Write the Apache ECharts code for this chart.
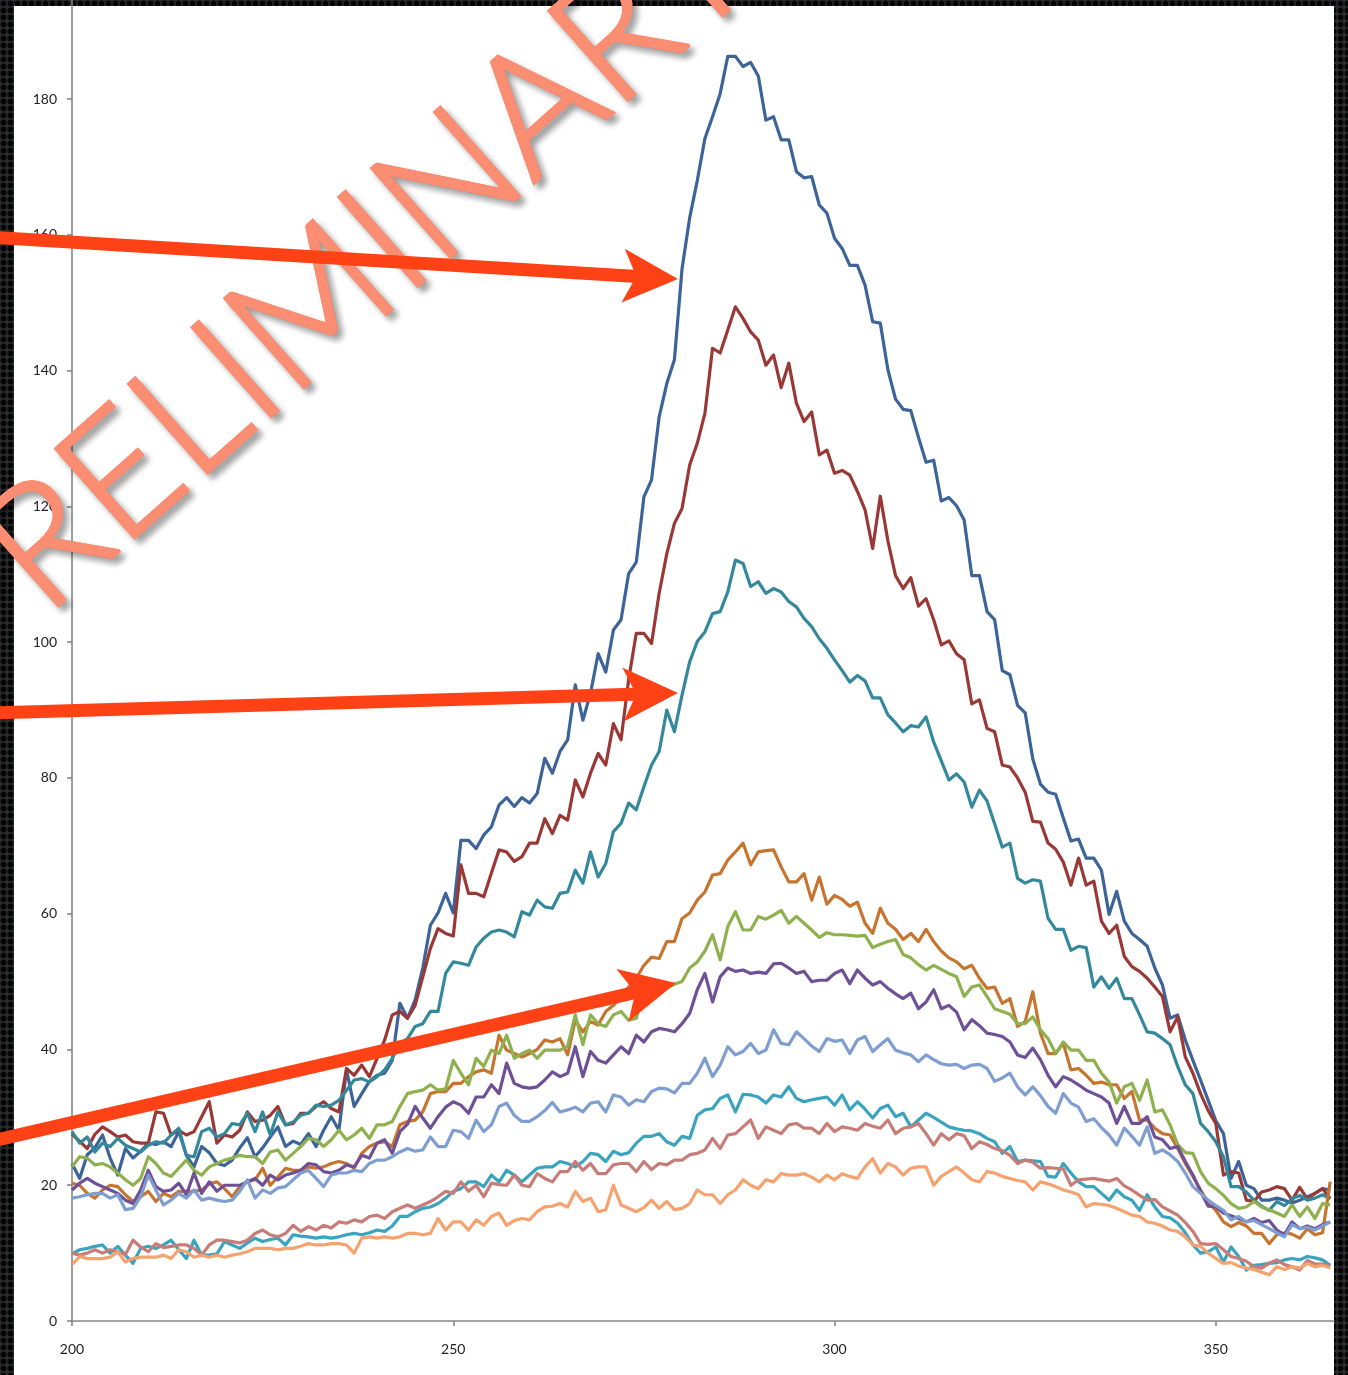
<!DOCTYPE html>
<html>
<head>
<meta charset="utf-8">
<script src="https://cdn.jsdelivr.net/npm/echarts@6/dist/echarts.min.js"></script>
<style>
  html, body { margin: 0; padding: 0; width: 1348px; height: 1375px; overflow: hidden; }
  body {
    background-color: #2a2b2d;
    background-image: radial-gradient(circle, #050505 0 2.6px, transparent 3.3px);
    background-size: 7px 7px;
  }
  #paper { position: absolute; left: 14px; top: 6px; width: 1320px; height: 1369px; background: #ffffff; }
  #chart { position: absolute; left: 0; top: 0; width: 1348px; height: 1375px; }
</style>
</head>
<body>
<div id="paper"></div>
<div id="chart"></div>
<script>
// Emission spectra, one sample per nm from 200 to 365 nm
const startNm = 200;

const xTicks = [200, 250, 300, 350];
const yTicks = [0, 20, 40, 60, 80, 100, 120, 140, 160, 180];

const series1 = [
  23.2, 21.0, 24.5, 25.5, 27.4, 24.0, 21.5, 25.4, 24.0, 25.0,
  26.2, 26.0, 26.4, 25.7, 27.9, 24.4, 22.7, 25.7, 24.8, 23.2,
  22.9, 23.7, 25.5, 27.0, 24.2, 25.5, 27.1, 28.6, 25.7, 26.5,
  26.0, 27.6, 25.7, 28.1, 30.1, 28.1, 37.0, 31.6, 33.5, 35.3,
  36.2, 36.5, 38.4, 46.8, 44.6, 47.3, 52.0, 58.3, 60.1, 63.0,
  60.1, 70.8, 70.8, 69.6, 71.6, 72.8, 76.0, 77.1, 75.8, 77.1,
  76.3, 77.7, 82.9, 80.7, 83.9, 85.6, 93.7, 88.5, 92.5, 98.3,
  95.6, 101.8, 103.3, 110.1, 111.8, 121.4, 123.9, 133.2, 138.1, 141.6,
  155.0, 162.5, 168.0, 174.2, 177.4, 180.8, 186.3, 186.3, 184.8, 185.4,
  183.4, 176.9, 177.4, 174.0, 174.0, 169.3, 168.4, 168.6, 164.4, 163.2,
  159.5, 158.0, 155.5, 155.5, 152.6, 147.2, 147.0, 140.1, 135.8, 134.3,
  134.1, 130.2, 126.5, 126.8, 120.8, 121.3, 120.1, 118.0, 109.8, 109.8,
  104.5, 103.3, 95.8, 95.2, 90.7, 89.6, 82.8, 79.1, 77.9, 77.6,
  74.1, 70.7, 71.0, 68.2, 68.2, 66.4, 59.9, 63.3, 58.9, 57.1,
  56.2, 55.2, 52.0, 49.5, 44.6, 45.1, 41.4, 38.4, 35.5, 32.5,
  29.5, 27.6, 21.0, 23.5, 20.0, 19.5, 17.8, 17.8, 18.1, 17.8,
  17.4, 17.8, 18.3, 18.8, 19.5, 19.3
];

const series2 = [
  27.5, 26.5, 25.4, 27.5, 28.6, 27.9, 27.1, 27.4, 26.4, 26.2,
  26.2, 30.8, 30.6, 27.4, 28.1, 27.4, 27.9, 30.1, 32.3, 26.2,
  27.4, 27.1, 28.1, 30.8, 29.4, 29.6, 30.3, 31.6, 28.9, 29.1,
  30.6, 30.6, 31.6, 32.3, 31.3, 30.8, 37.2, 36.2, 37.7, 36.0,
  38.7, 41.4, 45.1, 45.6, 44.6, 46.5, 50.7, 54.9, 57.8, 57.1,
  56.7, 67.2, 63.0, 63.0, 62.5, 66.0, 69.4, 69.1, 67.7, 68.4,
  70.4, 70.4, 74.0, 71.8, 74.5, 73.8, 79.7, 77.2, 80.7, 83.6,
  81.9, 88.0, 85.6, 94.5, 101.3, 101.3, 99.8, 107.2, 113.0, 117.5,
  119.7, 126.1, 129.3, 133.7, 143.3, 142.6, 146.0, 149.4, 147.7, 145.7,
  144.5, 140.8, 142.3, 137.5, 141.1, 135.2, 132.5, 133.9, 127.6, 128.3,
  124.9, 125.3, 124.6, 122.2, 119.5, 113.8, 121.5, 114.9, 109.8, 107.9,
  109.5, 105.3, 106.4, 103.3, 99.6, 100.2, 98.3, 97.4, 90.9, 91.5,
  87.3, 86.8, 81.9, 81.6, 80.0, 77.9, 73.6, 73.5, 70.4, 69.5,
  67.6, 64.2, 68.2, 64.2, 64.8, 58.9, 57.1, 58.3, 53.7, 52.2,
  51.5, 50.5, 49.2, 47.8, 42.6, 44.8, 38.9, 36.5, 33.5, 31.0,
  29.1, 21.5, 22.0, 21.8, 17.8, 17.6, 19.0, 19.3, 19.8, 19.5,
  17.8, 19.7, 18.0, 18.8, 19.5, 18.0
];

const series3 = [
  27.9, 26.2, 27.1, 24.9, 26.2, 25.7, 26.9, 25.9, 25.4, 24.9,
  25.9, 26.4, 26.2, 27.4, 28.4, 24.4, 24.2, 27.9, 28.4, 27.1,
  27.6, 29.1, 28.9, 30.6, 27.9, 30.8, 27.4, 30.8, 28.9, 29.3,
  30.3, 30.6, 31.8, 31.6, 31.8, 32.5, 34.0, 35.5, 35.7, 35.2,
  36.0, 37.0, 38.7, 40.9, 41.6, 43.4, 43.8, 45.6, 45.6, 51.2,
  52.9, 52.7, 52.4, 55.1, 56.4, 57.3, 57.6, 57.3, 56.6, 60.3,
  59.8, 62.0, 61.0, 60.8, 63.0, 63.2, 66.4, 64.5, 69.1, 65.4,
  67.4, 72.1, 73.3, 76.3, 75.3, 78.7, 81.9, 83.9, 90.0, 86.8,
  92.2, 97.1, 100.1, 101.5, 104.2, 104.5, 107.4, 112.1, 111.6, 108.2,
  108.9, 107.2, 107.9, 107.4, 106.0, 105.2, 103.5, 102.3, 100.5, 99.1,
  97.4, 95.8, 94.1, 95.1, 94.3, 91.8, 91.8, 89.3, 88.1, 86.8,
  87.7, 87.5, 89.0, 85.3, 82.5, 79.7, 80.6, 79.4, 75.7, 78.2,
  76.6, 73.2, 69.8, 70.4, 65.2, 64.5, 65.0, 64.8, 59.3, 57.7,
  57.7, 54.6, 55.2, 55.0, 49.2, 50.7, 49.0, 50.5, 47.5, 47.5,
  45.1, 42.6, 42.4, 41.6, 40.7, 37.5, 34.8, 33.5, 29.1, 27.9,
  26.4, 24.2, 19.8, 19.8, 19.0, 17.8, 16.9, 16.3, 17.6, 17.0,
  18.0, 18.5, 17.8, 18.1, 18.6, 18.0
];

const series4 = [
  20.3, 20.0, 18.8, 18.1, 19.3, 20.0, 19.8, 18.6, 17.6, 18.3,
  19.1, 17.6, 18.8, 18.3, 19.1, 19.1, 19.1, 19.3, 20.2, 20.5,
  19.5, 18.3, 19.8, 20.5, 20.8, 22.5, 20.0, 21.2, 22.5, 22.2,
  22.2, 22.7, 22.5, 22.7, 23.2, 23.5, 23.2, 22.5, 24.7, 25.7,
  26.2, 26.4, 25.7, 28.9, 29.4, 29.6, 30.8, 33.5, 33.8, 33.8,
  35.0, 35.0, 36.0, 36.7, 37.0, 36.5, 42.1, 39.9, 39.4, 38.9,
  39.4, 40.0, 41.4, 41.1, 41.6, 39.2, 44.3, 42.6, 44.1, 43.6,
  45.6, 46.5, 47.8, 49.2, 50.5, 52.4, 53.6, 53.4, 55.9, 55.9,
  59.3, 60.1, 62.0, 63.2, 65.7, 65.9, 67.9, 69.1, 70.4, 67.2,
  69.1, 69.3, 69.4, 66.9, 64.7, 64.7, 65.9, 62.0, 65.4, 61.4,
  62.7, 62.1, 61.1, 61.7, 58.6, 57.1, 60.8, 58.6, 57.7, 56.2,
  57.1, 55.9, 57.7, 55.9, 54.5, 53.5, 52.9, 51.9, 52.4, 50.5,
  49.0, 49.2, 46.8, 47.5, 43.4, 44.1, 48.5, 42.4, 39.4, 39.4,
  40.9, 37.0, 37.2, 36.2, 35.0, 35.2, 34.8, 34.8, 32.8, 33.8,
  29.6, 29.6, 28.4, 27.6, 27.4, 25.4, 23.2, 21.3, 19.3, 17.5,
  16.3, 14.6, 13.9, 14.5, 14.0, 12.9, 12.9, 11.4, 12.7, 13.0,
  12.8, 12.2, 13.6, 12.7, 13.0, 20.5
];

const series5 = [
  22.7, 24.2, 24.0, 23.0, 23.2, 22.7, 21.8, 20.8, 20.0, 21.0,
  24.2, 23.2, 21.8, 21.3, 22.5, 23.7, 22.2, 21.5, 22.7, 23.2,
  23.7, 24.0, 24.4, 24.2, 24.2, 23.2, 24.9, 25.2, 23.7, 24.7,
  25.7, 26.9, 26.7, 25.7, 26.7, 28.1, 26.7, 27.4, 28.4, 26.9,
  28.9, 28.9, 29.4, 31.6, 33.5, 33.8, 34.0, 34.8, 34.0, 34.2,
  38.4, 36.5, 34.8, 38.7, 37.5, 39.9, 39.4, 42.1, 38.7, 39.4,
  39.9, 38.7, 39.9, 39.9, 39.9, 40.5, 45.1, 40.7, 45.1, 43.8,
  43.4, 45.1, 45.6, 44.3, 44.6, 48.8, 49.2, 49.3, 49.0, 49.6,
  50.0, 52.0, 52.9, 54.5, 56.9, 53.2, 58.1, 60.3, 57.6, 57.6,
  59.6, 59.2, 59.8, 60.5, 58.6, 59.6, 58.6, 57.6, 56.5, 57.2,
  56.9, 56.9, 56.8, 56.7, 56.8, 55.0, 55.5, 55.9, 56.2, 54.0,
  53.5, 52.5, 51.7, 52.4, 51.8, 51.2, 50.7, 47.8, 49.2, 49.5,
  47.8, 46.0, 45.6, 45.2, 43.8, 43.8, 44.8, 42.9, 41.6, 39.4,
  41.1, 39.9, 39.9, 38.4, 38.4, 36.5, 35.2, 32.1, 34.5, 35.0,
  32.5, 35.5, 30.8, 31.1, 28.9, 26.0, 24.8, 24.7, 22.0, 20.3,
  19.5, 18.5, 17.3, 16.6, 16.8, 17.6, 16.8, 16.4, 15.9, 15.4,
  17.1, 15.4, 16.8, 15.1, 17.3, 17.1
];

const series6 = [
  19.3, 20.3, 21.0, 20.3, 19.8, 19.3, 18.8, 17.8, 17.3, 19.3,
  22.2, 19.8, 19.1, 19.3, 20.3, 18.6, 21.8, 18.8, 20.5, 19.1,
  20.0, 20.0, 20.0, 20.5, 21.0, 20.0, 21.5, 20.8, 21.5, 21.8,
  22.2, 23.2, 23.0, 22.0, 21.8, 22.2, 23.0, 22.7, 24.4, 24.0,
  26.2, 26.7, 24.7, 27.9, 29.0, 31.6, 29.9, 28.4, 30.1, 31.5,
  32.3, 31.8, 30.6, 33.0, 33.0, 34.8, 33.5, 38.0, 35.0, 34.5,
  34.3, 34.5, 35.5, 36.7, 36.0, 36.5, 40.4, 36.0, 39.7, 38.4,
  38.0, 39.2, 40.4, 39.4, 42.1, 41.1, 42.6, 43.1, 42.9, 42.6,
  43.8, 45.3, 48.8, 51.2, 47.0, 50.7, 52.0, 51.5, 51.7, 51.2,
  51.4, 51.2, 52.6, 52.7, 52.0, 51.2, 51.5, 50.0, 50.2, 50.2,
  51.2, 51.7, 49.7, 51.7, 50.5, 49.5, 50.0, 49.0, 48.2, 47.5,
  48.3, 46.0, 47.0, 48.8, 46.0, 46.5, 45.5, 42.9, 44.4, 43.5,
  42.4, 42.2, 41.9, 41.1, 39.2, 38.8, 40.2, 38.5, 36.2, 34.5,
  36.0, 35.5, 34.8, 34.0, 33.5, 33.0, 32.1, 29.1, 31.6, 29.1,
  29.1, 30.1, 27.1, 26.7, 25.4, 25.7, 23.5, 21.5, 19.1, 16.9,
  16.8, 15.9, 15.5, 15.1, 14.6, 15.1, 14.5, 14.8, 13.4, 12.7,
  14.6, 13.6, 14.0, 13.6, 14.2, 14.6
];

const series7 = [
  18.1, 18.3, 18.6, 18.8, 18.8, 18.1, 18.6, 16.4, 16.6, 18.3,
  21.5, 19.3, 17.1, 17.8, 18.8, 18.1, 19.3, 17.8, 18.1, 17.8,
  17.6, 17.8, 19.1, 20.8, 18.1, 19.3, 18.8, 19.6, 19.8, 20.8,
  21.8, 22.2, 21.0, 19.8, 21.5, 21.8, 21.8, 22.2, 22.0, 23.2,
  23.7, 23.7, 24.2, 24.9, 25.4, 25.0, 25.2, 27.1, 25.7, 25.7,
  28.1, 27.9, 26.9, 29.6, 27.9, 28.9, 31.6, 32.1, 30.3, 29.4,
  29.4, 30.1, 31.0, 32.2, 30.8, 31.1, 31.5, 30.8, 32.1, 32.3,
  30.8, 33.3, 33.0, 31.8, 32.6, 32.3, 33.8, 34.3, 34.2, 33.6,
  35.0, 35.0, 36.5, 38.7, 36.0, 37.7, 40.4, 39.2, 39.7, 40.9,
  39.4, 39.9, 42.9, 40.9, 40.7, 42.6, 41.6, 40.5, 39.7, 41.6,
  41.2, 41.4, 39.4, 41.4, 41.9, 39.7, 40.7, 41.6, 39.9, 39.5,
  39.2, 38.2, 39.2, 38.5, 37.9, 37.7, 37.8, 37.2, 37.7, 37.8,
  37.2, 35.3, 35.8, 36.5, 34.5, 33.3, 34.5, 33.2, 31.6, 30.6,
  33.5, 32.1, 31.5, 29.4, 29.8, 28.5, 27.4, 25.9, 28.4, 27.2,
  25.9, 28.6, 24.7, 25.2, 24.5, 23.5, 21.8, 19.8, 18.8, 17.8,
  17.0, 16.3, 14.9, 15.4, 14.6, 14.8, 14.2, 13.6, 13.0, 12.4,
  14.2, 13.6, 13.8, 13.4, 14.0, 14.6
];

const series8 = [
  9.9, 10.5, 10.7, 11.0, 11.2, 10.0, 11.0, 9.7, 8.5, 10.7,
  11.0, 10.7, 11.2, 11.9, 10.5, 9.2, 11.9, 9.7, 9.7, 9.9,
  11.7, 11.2, 10.7, 11.5, 12.2, 11.7, 12.0, 12.2, 11.2, 12.7,
  12.5, 12.4, 12.2, 12.4, 12.2, 12.4, 12.7, 12.9, 12.7, 13.0,
  13.4, 13.2, 14.0, 15.4, 15.4, 16.1, 16.6, 16.8, 17.3, 18.1,
  19.1, 19.5, 20.5, 20.5, 19.8, 21.5, 20.5, 22.2, 21.5, 20.5,
  21.5, 22.5, 22.7, 22.7, 23.5, 23.2, 22.7, 23.5, 24.7, 24.5,
  23.5, 25.0, 24.5, 24.8, 26.2, 27.2, 27.2, 27.6, 26.4, 25.9,
  27.2, 26.9, 30.3, 31.1, 31.3, 32.8, 33.3, 30.8, 33.4, 33.3,
  33.0, 32.1, 33.3, 33.0, 34.5, 32.8, 32.3, 32.6, 32.8, 33.0,
  31.8, 33.3, 31.1, 32.3, 31.2, 29.9, 31.3, 31.8, 30.1, 30.6,
  28.6, 29.6, 30.6, 30.0, 29.3, 28.6, 28.3, 28.1, 28.0, 27.6,
  26.9, 26.4, 24.7, 25.7, 23.5, 23.7, 23.6, 23.5, 21.3, 21.2,
  23.2, 21.8, 20.5, 19.8, 19.8, 18.8, 17.8, 19.3, 18.3, 17.8,
  16.3, 18.6, 16.8, 15.4, 15.2, 14.4, 13.0, 11.2, 10.0, 10.2,
  10.9, 8.7, 10.9, 9.5, 7.5, 8.2, 8.3, 8.5, 8.6, 9.0,
  9.2, 9.0, 9.5, 9.3, 9.0, 8.2
];

const series9 = [
  10.0, 9.7, 10.0, 10.5, 10.0, 10.5, 10.2, 9.8, 11.9, 10.9,
  10.2, 11.4, 10.8, 11.0, 11.2, 11.2, 10.7, 9.7, 11.2, 11.9,
  11.9, 11.7, 11.5, 11.9, 12.9, 13.4, 12.7, 12.4, 12.9, 14.1,
  13.2, 13.9, 13.4, 14.1, 13.7, 14.6, 14.4, 14.9, 14.6, 15.4,
  15.6, 15.1, 16.1, 16.6, 17.1, 16.6, 17.1, 17.6, 18.3, 19.1,
  18.8, 20.5, 19.1, 20.0, 18.3, 20.3, 20.1, 20.0, 21.5, 20.0,
  19.8, 21.7, 21.0, 20.5, 22.0, 22.0, 23.5, 22.2, 23.2, 21.7,
  21.7, 23.0, 23.2, 23.2, 22.0, 23.5, 22.3, 23.2, 23.0, 23.7,
  23.7, 24.5, 24.7, 25.2, 26.9, 25.4, 27.4, 27.6, 28.6, 29.6,
  26.9, 28.6, 28.1, 27.6, 28.9, 29.1, 28.4, 28.4, 27.6, 29.1,
  27.9, 28.6, 28.4, 28.1, 29.1, 28.7, 28.4, 29.6, 27.6, 28.4,
  28.6, 29.1, 27.6, 25.9, 27.6, 26.7, 27.6, 27.3, 25.4, 26.4,
  26.0, 25.4, 25.1, 24.4, 23.2, 23.7, 23.4, 22.5, 22.6, 22.5,
  22.4, 20.0, 20.8, 20.9, 21.0, 20.8, 20.6, 21.0, 19.9, 19.3,
  18.5, 17.8, 17.9, 16.8, 16.2, 15.6, 14.5, 13.2, 11.4, 11.3,
  11.4, 10.5, 9.5, 9.2, 8.8, 8.0, 7.8, 8.5, 9.0, 8.3,
  8.0, 7.5, 8.9, 8.4, 8.4, 8.0
];

const series10 = [
  8.3, 9.5, 9.2, 9.2, 9.2, 9.4, 10.2, 8.7, 9.2, 9.4,
  9.4, 9.4, 9.7, 9.2, 10.5, 10.2, 9.4, 9.7, 9.4, 9.7,
  9.4, 9.7, 9.9, 10.2, 10.7, 10.7, 10.7, 10.5, 10.7, 10.7,
  11.0, 11.4, 11.2, 11.2, 11.4, 11.4, 11.2, 10.0, 12.2, 12.4,
  12.2, 12.4, 12.2, 12.4, 12.9, 12.9, 12.7, 12.9, 15.1, 13.4,
  14.6, 14.6, 13.4, 14.9, 14.1, 15.4, 15.9, 14.1, 14.8, 15.1,
  14.9, 16.1, 16.8, 16.9, 17.3, 16.8, 19.1, 17.6, 18.1, 16.1,
  16.4, 20.0, 17.1, 16.6, 16.1, 16.7, 17.8, 16.6, 17.6, 16.4,
  16.6, 17.3, 19.3, 18.6, 18.6, 17.3, 18.6, 19.3, 20.8, 20.0,
  19.5, 20.8, 20.5, 21.7, 21.5, 21.5, 21.7, 21.2, 20.5, 21.5,
  20.8, 21.7, 21.3, 21.0, 22.7, 23.9, 21.8, 23.2, 22.7, 21.5,
  22.5, 22.7, 22.7, 20.0, 21.3, 22.0, 22.7, 21.8, 20.8, 20.5,
  22.0, 21.8, 21.3, 21.0, 20.7, 20.5, 19.3, 20.5, 20.2, 19.8,
  19.3, 19.0, 18.6, 16.8, 17.3, 17.2, 17.0, 16.6, 16.1, 15.6,
  15.4, 14.6, 14.4, 14.0, 13.4, 13.2, 12.4, 11.2, 11.0, 10.0,
  9.2, 8.5, 8.6, 8.1, 7.8, 7.6, 7.2, 6.8, 8.0, 7.6,
  8.0, 7.8, 8.5, 8.0, 8.2, 7.8
];

const seriesNames = ['S1', 'S2', 'S3', 'S4', 'S5', 'S6', 'S7', 'S8', 'S9', 'S10'];
const seriesValues = [series1, series2, series3, series4, series5, series6, series7, series8, series9, series10];
const seriesColors = ['#3c6498', '#9a3836', '#33889c', '#c7742f', '#8eb14e', '#6e5097', '#7e9ed1', '#3aa4c0', '#c77c77', '#f6a26e'];

const chart = echarts.init(document.getElementById('chart'), null, { renderer: 'canvas' });

const toPairs = (vals) => vals.map((v, i) => [startNm + i, v]);

// Block arrow polygon from a tail point to a tip point
function arrowShape(tail, tip, shaftW, headL, headHalf, sweep) {
  const dx = tip[0] - tail[0], dy = tip[1] - tail[1];
  const len = Math.hypot(dx, dy);
  const ux = dx / len, uy = dy / len, nx = -uy, ny = ux;
  const bx = tip[0] - ux * headL, by = tip[1] - uy * headL;
  const jx = tip[0] - ux * (headL - sweep), jy = tip[1] - uy * (headL - sweep);
  return [
    [tail[0] + nx * shaftW / 2, tail[1] + ny * shaftW / 2],
    [jx + nx * shaftW / 2, jy + ny * shaftW / 2],
    [bx + nx * headHalf, by + ny * headHalf],
    [tip[0], tip[1]],
    [bx - nx * headHalf, by - ny * headHalf],
    [jx - nx * shaftW / 2, jy - ny * shaftW / 2],
    [tail[0] - nx * shaftW / 2, tail[1] - ny * shaftW / 2]
  ];
}

const arrowColor = '#fe4216';
const arrows = [
  { tail: [-12, 237], tip: [678, 279] },
  { tail: [-12, 713], tip: [678, 693] },
  { tail: [-12, 1142], tip: [676, 983] }
].map((a) => ({
  type: 'polygon',
  z: 120,
  silent: true,
  shape: { points: arrowShape(a.tail, a.tip, 13, 55, 27, 10) },
  style: { fill: arrowColor }
}));

// Diagonal "PRELIMINARY" stamp: a shadowed layer under a clean layer
const stampColor = '#fb8d72';
function stampLayer(z, withShadow) {
  const style = {
    text: 'PRELIMINARY',
    fill: stampColor,
    stroke: stampColor,
    lineWidth: 3,
    font: '300 168px Lato, "Open Sans", sans-serif',
    align: 'center',
    verticalAlign: 'middle'
  };
  if (withShadow) {
    style.textShadowColor = 'rgba(0, 0, 0, 0.33)';
    style.textShadowBlur = 6;
    style.textShadowOffsetX = 5;
    style.textShadowOffsetY = 5;
  }
  return {
    type: 'text',
    z: z,
    silent: true,
    x: 332,
    y: 290,
    rotation: 41.6 * Math.PI / 180,
    style: style
  };
}

const option = {
  animation: false,
  backgroundColor: 'transparent',
  textStyle: { fontFamily: 'Lato, "Open Sans", sans-serif' },
  grid: { left: 72, right: 14, top: 0, bottom: 54, containLabel: false },
  xAxis: {
    type: 'value',
    min: 200,
    max: 365.5,
    interval: 50,
    axisLine: { show: true, lineStyle: { color: '#878787', width: 1.6 } },
    axisTick: { show: true, inside: false, length: 5, lineStyle: { color: '#878787', width: 1.6 } },
    axisLabel: {
      showMaxLabel: false,
      margin: 21,
      color: '#1f1f1f',
      fontSize: 14,
      formatter: (v) => (xTicks.indexOf(v) >= 0 ? String(v) : '')
    },
    splitLine: { show: false }
  },
  yAxis: {
    type: 'value',
    min: 0,
    max: 194.6,
    interval: 20,
    axisLine: { show: true, lineStyle: { color: '#878787', width: 1.6 } },
    axisTick: { show: true, inside: false, length: 5, lineStyle: { color: '#878787', width: 1.6 } },
    axisLabel: {
      showMaxLabel: false,
      margin: 15,
      color: '#1f1f1f',
      fontSize: 14,
      formatter: (v) => (yTicks.indexOf(v) >= 0 ? String(v) : '')
    },
    splitLine: { show: false }
  },
  series: seriesValues.map((vals, i) => ({
    name: seriesNames[i],
    type: 'line',
    data: toPairs(vals),
    showSymbol: false,
    symbol: 'none',
    smooth: false,
    clip: true,
    lineStyle: { color: seriesColors[i], width: 3.2, join: 'round' },
    itemStyle: { color: seriesColors[i] },
    z: 2 + i
  })),
  graphic: [stampLayer(100, true), stampLayer(101, false)].concat(arrows)
};

chart.setOption(option);
</script>
</body>
</html>
